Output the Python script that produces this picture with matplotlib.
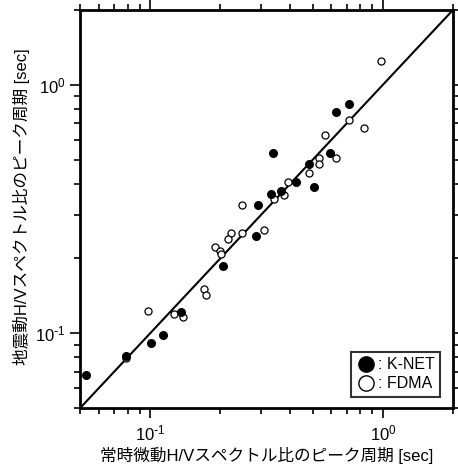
import numpy as np
import matplotlib
matplotlib.use("Agg")
import matplotlib.pyplot as plt
from matplotlib.lines import Line2D

plt.rcParams['font.family'] = ['Liberation Sans', 'Noto Sans CJK JP', 'DejaVu Sans']

# K-NET (filled) : microtremor H/V peak period vs earthquake H/V peak period
knet_x = [0.053, 0.079, 0.101, 0.113, 0.135, 0.205, 0.284, 0.290, 0.329, 0.338,
          0.365, 0.424, 0.482, 0.507, 0.594, 0.628, 0.718]
knet_y = [0.068, 0.081, 0.091, 0.098, 0.122, 0.186, 0.246, 0.327, 0.362, 0.530,
          0.375, 0.405, 0.480, 0.389, 0.530, 0.775, 0.835]

# FDMA (open)
fdma_x = [0.986, 0.713, 0.833, 0.563, 0.628, 0.532, 0.531, 0.482, 0.392, 0.377,
          0.340, 0.249, 0.309, 0.249, 0.222, 0.217, 0.190, 0.200, 0.201, 0.170,
          0.174, 0.098, 0.126, 0.139, 0.0785]
fdma_y = [1.247, 0.722, 0.672, 0.628, 0.506, 0.506, 0.479, 0.441, 0.405, 0.360,
          0.346, 0.327, 0.260, 0.254, 0.252, 0.239, 0.223, 0.215, 0.208, 0.150,
          0.142, 0.123, 0.119, 0.116, 0.0795]

tick_vals = [0.1, 1.0]
tick_labels = [r'$\mathregular{10^{\text{-}1}}$', r'$\mathregular{10^{0}}$']
lim = [0.05, 2.0]

fig = plt.figure(figsize=(4.58, 4.75), dpi=100)
ax = fig.add_axes([0.175, 0.141, 0.814, 0.838])

ax.plot(lim, lim, color='black', lw=1.5, zorder=1)
ax.scatter(fdma_x, fdma_y, s=26, facecolors='white', edgecolors='black', linewidths=0.9, zorder=2)
ax.scatter(knet_x, knet_y, s=30, color='black', zorder=3)

ax.set_xscale('log')
ax.set_yscale('log')
ax.set_xlim(lim)
ax.set_ylim(lim)

for sp in ax.spines.values():
    sp.set_linewidth(2)

ax.tick_params(which='both', direction='out', top=True, right=True, width=1.2)
ax.tick_params(which='major', length=7, labelsize=12)
ax.tick_params(which='minor', length=4)
ax.set_xticks(tick_vals)
ax.set_xticklabels(tick_labels)
ax.set_yticks(tick_vals)
ax.set_yticklabels(tick_labels)
ax.tick_params(axis='x', pad=4)

ax.set_xlabel('常時微動H/Vスペクトル比のピーク周期 [sec]', fontsize=12)
ax.set_ylabel('地震動H/Vスペクトル比のピーク周期 [sec]', fontsize=12)
ax.xaxis.set_label_coords(0.5, -0.098)
ax.yaxis.set_label_coords(-0.134, 0.507)

handles = [
    Line2D([], [], marker='o', ls='none', color='black', markersize=11, label=': K-NET'),
    Line2D([], [], marker='o', ls='none', markerfacecolor='white', markeredgecolor='black',
           markeredgewidth=1, markersize=11, label=': FDMA'),
]
leg = ax.legend(handles=handles, loc='lower right', fontsize=11.5, frameon=True, fancybox=False,
                handletextpad=0.1, borderpad=0.35, labelspacing=0.25, handlelength=1.2,
                borderaxespad=0, bbox_to_anchor=(0.965, 0.028))
leg.get_frame().set_edgecolor('black')
leg.get_frame().set_linewidth(1.5)

fig.savefig('out.png', dpi=100)
